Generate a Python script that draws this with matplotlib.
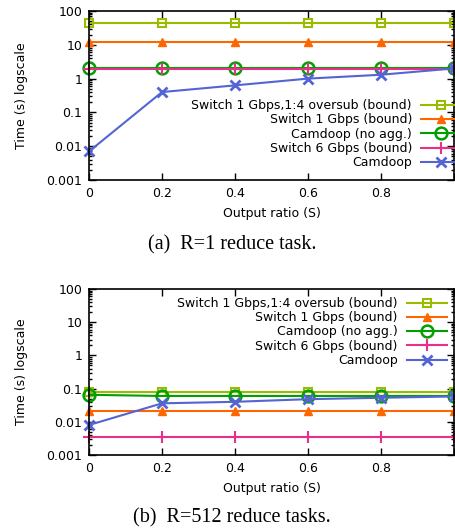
import matplotlib
matplotlib.use('Agg')
import numpy as np
from matplotlib import pyplot as plt

# data
ratio = [0, 0.2, 0.4, 0.6, 0.8, 1.0]

# (a) R=1 reduce task
oversub_r1 = [44, 44, 44, 44, 44, 44]
switch1_r1 = [11.8, 11.8, 11.8, 11.8, 11.8, 11.8]
noagg_r1 = [2.0, 2.0, 2.0, 2.0, 2.0, 2.0]
switch6_r1 = [1.95, 1.95, 1.95, 1.95, 1.95, 1.95]
camdoop_r1 = [0.007, 0.4, 0.63, 1.0, 1.3, 2.0]

# (b) R=512 reduce tasks
oversub_r512 = [0.081, 0.081, 0.081, 0.081, 0.081, 0.081]
switch1_r512 = [0.021, 0.021, 0.021, 0.021, 0.021, 0.021]
noagg_r512 = [0.065, 0.06, 0.06, 0.06, 0.06, 0.06]
switch6_r512 = [0.0034, 0.0034, 0.0034, 0.0034, 0.0034, 0.0034]
camdoop_r512 = [0.008, 0.036, 0.040, 0.048, 0.053, 0.058]

labels = ['Switch 1 Gbps,1:4 oversub (bound)', 'Switch 1 Gbps (bound)',
          'Camdoop (no agg.)', 'Switch 6 Gbps (bound)', 'Camdoop']
xticks = [0, 0.2, 0.4, 0.6, 0.8, 1.0]
xticklabels = ['0', '0.2', '0.4', '0.6', '0.8', '']
yticks = [0.001, 0.01, 0.1, 1, 10, 100]
yticklabels = ['0.001', '0.01', '0.1', '1', '10', '100']

styles = [
    dict(color='#99bb00', marker='s', ms=5.5, mfc='none', mew=1.5),
    dict(color='#ff6600', marker='^', ms=6, mfc='#ff6600', mew=1.0),
    dict(color='#00a000', marker='o', ms=8.5, mfc='none', mew=1.8),
    dict(color='#e8308a', marker='+', ms=8, mew=1.5),
    dict(color='#5464d4', marker='x', ms=6.5, mew=2.0),
]

plt.rcParams['font.family'] = 'DejaVu Sans'
plt.rcParams['font.size'] = 9

W, H = 455, 531
fig = plt.figure(figsize=(W / 100, H / 100), dpi=100)


def px_axes(left, right, top, bottom):
    return fig.add_axes([left / W, 1 - bottom / H, (right - left) / W, (bottom - top) / H])


def panel(ax, series, legend_anchor, caption, cap_y):
    for ys, st, lab in zip(series, styles, labels):
        ax.plot(ratio, ys, label=lab, lw=1.5, clip_on=False, **st)
    ax.set_yscale('log')
    ax.set_xlim(0, 1.0)
    ax.set_ylim(0.001, 100)
    ax.set_xticks(xticks)
    ax.set_xticklabels(xticklabels)
    ax.set_yticks(yticks)
    ax.set_yticklabels(yticklabels)
    ax.tick_params(which='both', direction='in', top=True, right=True, width=1.0)
    ax.tick_params(which='major', length=5, pad=5)
    ax.tick_params(which='minor', length=2.5)
    for s in ax.spines.values():
        s.set_linewidth(1.2)
    ax.set_xlabel('Output ratio (S)', labelpad=5)
    ax.set_ylabel('Time (s) logscale', labelpad=13)
    ax.legend(loc='upper right', bbox_to_anchor=legend_anchor, frameon=False,
              markerfirst=False, handlelength=3.2, handletextpad=0.75,
              labelspacing=0.1, borderpad=0)
    fig.text(0.5 + 0.01, cap_y, caption, ha='center', va='center',
             family='Liberation Serif', fontsize=14.5)


ax1 = px_axes(89, 454, 11, 180)
panel(ax1, [oversub_r1, switch1_r1, noagg_r1, switch6_r1, camdoop_r1],
      (1.037, 0.515), '(a)  R=1 reduce task.', 1 - 245 / H)

ax2 = px_axes(89, 454, 289, 455)
panel(ax2, [oversub_r512, switch1_r512, noagg_r512, switch6_r512, camdoop_r512],
      (0.998, 0.99), '(b)  R=512 reduce tasks.', 1 - 518 / H)

fig.savefig('out.png', dpi=100)
